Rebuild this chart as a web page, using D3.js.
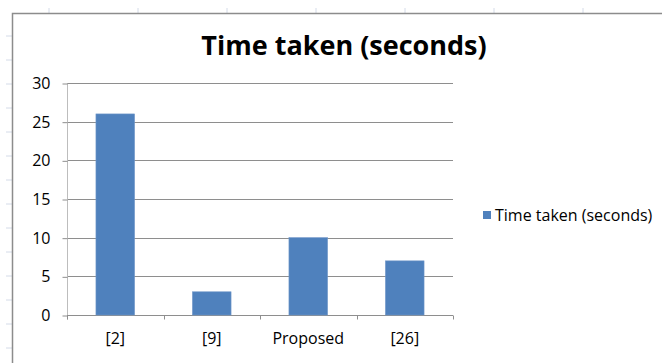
<!DOCTYPE html>
<html>
<head>
<meta charset="utf-8">
<script src="https://cdn.jsdelivr.net/npm/d3@7"></script>
<style>
  body { margin: 0; background: #fff; }
  text { font-family: "Open Sans", sans-serif; }
</style>
</head>
<body>
<div id="chart"></div>
<script>
// Data
var categories = ["[2]", "[9]", "Proposed", "[26]"];
var timeTaken = [26, 3, 10, 7];
var yTicks = [0, 5, 10, 15, 20, 25, 30];
var seriesName = "Time taken (seconds)";

var svgWidth = 662;
var svgHeight = 363;

// plot area inside the Excel chart frame
var plot = { left: 67, top: 83, right: 453, bottom: 315 };

var svg = d3.select("#chart")
    .append("svg")
    .attr("width", svgWidth)
    .attr("height", svgHeight);

// faint spreadsheet cells peeking out around the chart frame
var colEdges = d3.range(49, svgWidth, 89);
var rowEdges = d3.range(36, svgHeight, 24);
svg.append("g").selectAll("line")
    .data(colEdges)
    .enter()
    .append("line")
    .attr("x1", d => d).attr("x2", d => d)
    .attr("y1", 8).attr("y2", 13)
    .attr("stroke", "#d4dbe8");
svg.append("g").selectAll("line")
    .data(rowEdges)
    .enter()
    .append("line")
    .attr("x1", 6).attr("x2", 12)
    .attr("y1", d => d).attr("y2", d => d)
    .attr("stroke", "#d4dbe8");

// chart frame (only left and top edges are visible)
svg.append("path")
    .attr("d", `M12.5,${svgHeight} V13.5 H${svgWidth}`)
    .attr("fill", "none")
    .attr("stroke", "#8c8c8c")
    .attr("stroke-width", 1.5);

var x = d3.scaleBand()
    .domain(categories)
    .range([plot.left, plot.right])
    .paddingInner(0.6)
    .paddingOuter(0.3);

var y = d3.scaleLinear()
    .domain([0, 30])
    .range([plot.bottom, plot.top]);

// gridlines
svg.append("g")
    .selectAll("line")
    .data(yTicks.slice(1))
    .enter()
    .append("line")
    .attr("x1", plot.left)
    .attr("x2", plot.right)
    .attr("y1", d => Math.round(y(d)) + 0.5)
    .attr("y2", d => Math.round(y(d)) + 0.5)
    .attr("stroke", "#8e8e8e");

// y axis
var leftAxis = d3.axisLeft(y)
    .tickValues(yTicks)
    .tickSize(5)
    .tickPadding(12);
var yAxis = svg.append("g")
    .attr("transform", `translate(${plot.left + 0.5}, 0.5)`)
    .call(leftAxis);
yAxis.select(".domain").attr("stroke", "#bdbdbd").attr("d", `M0,${plot.top}V${plot.bottom + 4}`);
yAxis.selectAll(".tick line").attr("stroke", "#8e8e8e");
yAxis.selectAll(".tick text")
    .attr("fill", "#000")
    .style("font-size", "16px")
    .style("font-family", "Open Sans, sans-serif");

// x axis
var bottomAxis = d3.axisBottom(x).tickSize(0).tickPadding(17);
var xAxis = svg.append("g")
    .attr("transform", `translate(0, ${plot.bottom + 0.5})`)
    .call(bottomAxis);
xAxis.select(".domain").attr("stroke", "#8e8e8e").attr("d", `M${plot.left},0H${plot.right}`);
xAxis.selectAll(".tick text")
    .attr("fill", "#000")
    .style("font-size", "16px")
    .style("font-family", "Open Sans, sans-serif");
// category separators
xAxis.append("g").selectAll("line")
    .data(d3.range(categories.length + 1))
    .enter()
    .append("line")
    .attr("x1", i => Math.round(plot.left + i * (plot.right - plot.left) / categories.length) + 0.5)
    .attr("x2", i => Math.round(plot.left + i * (plot.right - plot.left) / categories.length) + 0.5)
    .attr("y1", 0)
    .attr("y2", 4)
    .attr("stroke", "#8e8e8e");

// bars
svg.append("g")
    .selectAll("rect")
    .data(timeTaken)
    .enter()
    .append("rect")
    .attr("x", (d, i) => x(categories[i]))
    .attr("y", d => y(d))
    .attr("width", x.bandwidth())
    .attr("height", d => y(0) - y(d))
    .attr("fill", "#4f81bd")
    .attr("stroke", "#6f96c8")
    .attr("stroke-width", 0.6);

// title
svg.append("text")
    .attr("x", 344)
    .attr("y", 55)
    .attr("text-anchor", "middle")
    .style("font-size", "27px")
    .style("font-weight", "bold")
    .attr("fill", "#000")
    .text(seriesName);

// legend
var legend = svg.append("g").attr("transform", "translate(483, 211)");
legend.append("rect")
    .attr("width", 8)
    .attr("height", 8)
    .attr("fill", "#4f81bd");
legend.append("text")
    .attr("x", 12)
    .attr("y", 9.5)
    .style("font-size", "16px")
    .attr("fill", "#000")
    .text(seriesName);
</script>
</body>
</html>
